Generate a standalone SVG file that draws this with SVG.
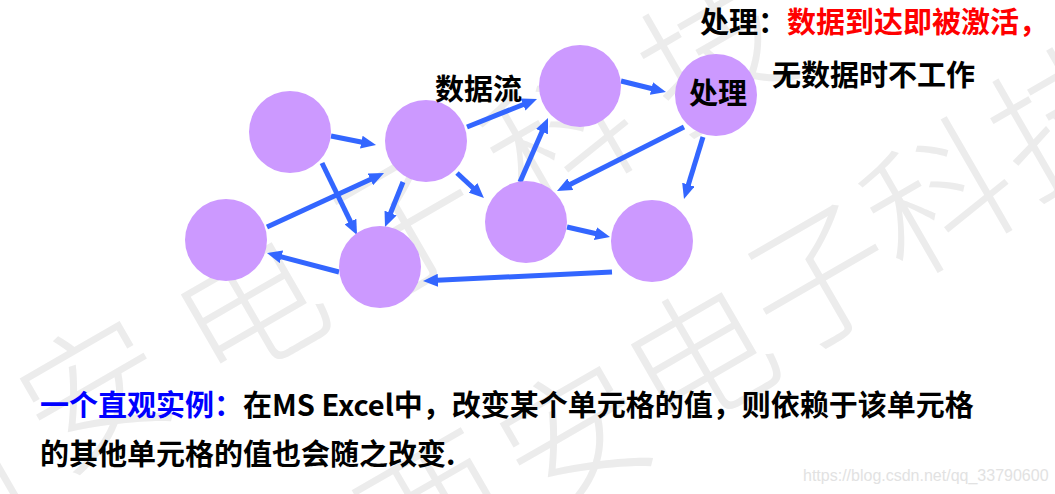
<svg xmlns="http://www.w3.org/2000/svg" width="1055" height="494" viewBox="0 0 1055 494">
<style>
.wm{font-family:"Noto Sans CJK SC","Noto Sans CJK JP",sans-serif;font-size:145px;font-weight:300;fill:#ececec;text-anchor:middle;dominant-baseline:central}
.node{fill:#cc99ff}
.edge{stroke:#3366ff;stroke-width:5;fill:none;marker-end:url(#ah)}
.t{font-family:"Noto Sans CJK SC","Noto Sans CJK JP",sans-serif;font-size:29px;font-weight:bold;fill:#000}
.url{font-family:"Liberation Sans",Arial,sans-serif;font-size:16px;fill:#e2e2e2}
</style>
<defs>
<marker id="ah" markerUnits="userSpaceOnUse" markerWidth="15" markerHeight="13" refX="1" refY="6.5" orient="auto">
<path d="M0,0 L15,6.5 L0,13 z" fill="#3366ff"/>
</marker>
</defs>
<rect width="1055" height="494" fill="#ffffff"/>
<g id="watermark">
<text class="wm" x="-60" y="470" transform="rotate(-30 -60 470)">西</text>
<text class="wm" x="90" y="385" transform="rotate(-30 90 385)">安</text>
<text class="wm" x="245" y="300" transform="rotate(-30 245 300)">电</text>
<text class="wm" x="400" y="215" transform="rotate(-30 400 215)">子</text>
<text class="wm" x="555" y="130" transform="rotate(-30 555 130)">科</text>
<text class="wm" x="710" y="45" transform="rotate(-30 710 45)">技</text>
<text class="wm" x="430" y="500" transform="rotate(-30 430 500)">西</text>
<text class="wm" x="570" y="430" transform="rotate(-30 570 430)">安</text>
<text class="wm" x="695" y="350" transform="rotate(-30 695 350)">电</text>
<text class="wm" x="815" y="270" transform="rotate(-30 815 270)">子</text>
<text class="wm" x="935" y="190" transform="rotate(-30 935 190)">科</text>
<text class="wm" x="1060" y="110" transform="rotate(-30 1060 110)">技</text>
</g>
<g id="connectors">
<path class="edge" d="M331,136 L362.3,142.3"/>
<path class="edge" d="M322,163 L350.9,222.4"/>
<path class="edge" d="M267,227 L371.3,178.9"/>
<path class="edge" d="M403,182 L390.2,214"/>
<path class="edge" d="M339,272 L280.5,256.6"/>
<path class="edge" d="M612,272 L437,280.3"/>
<path class="edge" d="M467,127 L524,104.2"/>
<path class="edge" d="M457,173 L473.7,188.5"/>
<path class="edge" d="M520,182 L542.4,130.8"/>
<path class="edge" d="M621,81 L652.4,88.7"/>
<path class="edge" d="M684,127 L569.5,184.7"/>
<path class="edge" d="M703,137 L688.1,185.6"/>
<path class="edge" d="M567,227 L596.4,233.8"/>
</g>
<g id="nodeA"><circle class="node" cx="290" cy="132" r="41"/></g>
<g id="nodeB"><circle class="node" cx="426" cy="141" r="41"/></g>
<g id="nodeC"><circle class="node" cx="226" cy="240" r="41"/></g>
<g id="nodeD"><circle class="node" cx="380" cy="267" r="41"/></g>
<g id="nodeE"><circle class="node" cx="580" cy="86" r="41"/></g>
<g id="nodeF"><circle class="node" cx="716" cy="95" r="41"/><text class="t" x="718" y="104" text-anchor="middle">处理</text></g>
<g id="nodeG"><circle class="node" cx="526" cy="222" r="41"/></g>
<g id="nodeH"><circle class="node" cx="652" cy="241" r="41"/></g>
<g id="labels">
<text class="t" x="435" y="100">数据流</text>
<text class="t" x="700" y="33">处理：<tspan fill="#ff0000">数据到达即被激活，</tspan></text>
<text class="t" x="772" y="86">无数据时不工作</text>
<text class="t" x="40" y="416"><tspan fill="#0000ff">一个直观实例：</tspan>在MS Excel中，改变某个单元格的值，则依赖于该单元格</text>
<text class="t" x="40" y="465">的其他单元格的值也会随之改变.</text>
<text class="url" x="803" y="481">https://blog.csdn.net/qq_33790600</text>
</g>
</svg>
